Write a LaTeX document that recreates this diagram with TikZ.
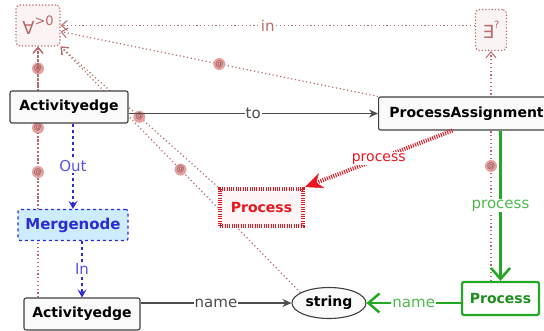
\documentclass[tikz,border=0pt]{standalone}
\usepackage{fontspec}
\setmainfont{DejaVu Sans}
\usetikzlibrary{arrows.meta, positioning, shapes.geometric, backgrounds}
\definecolor{rosy}{HTML}{B86A6A}
\definecolor{atpink}{HTML}{E5A0A0}
\definecolor{procred}{HTML}{E8161E}
\definecolor{procgreen}{HTML}{23A823}
\definecolor{mergeblue}{HTML}{2C2CD6}
\definecolor{mergefill}{HTML}{CDEDFF}

\begin{document}
\begin{tikzpicture}[x=1pt, y=-1pt,
  cls/.style={rectangle, draw=black!75, line width=1.1pt, fill=black!2, rounded corners=2pt, font=\bfseries\fontsize{14}{16}\selectfont, minimum height=32pt, inner xsep=5pt},
  quant/.style={rectangle, draw=rosy, dotted, line width=1.2pt, fill=rosy!8, rounded corners=4pt, text=rosy, font=\fontsize{18}{20}\selectfont, inner sep=0pt, minimum height=41pt},
  mergebox/.style={rectangle, draw=mergeblue, dashed, line width=1.1pt, fill=mergefill, rounded corners=2pt, text=mergeblue, font=\bfseries\fontsize{15}{17}\selectfont, minimum width=110pt, minimum height=31pt},
  delproc/.style={rectangle, draw=procred, line width=4pt, dash pattern=on 1pt off 1.3pt, fill=procred!4, text=procred, font=\bfseries\fontsize{14}{16}\selectfont, minimum width=83pt, minimum height=37pt},
  addproc/.style={rectangle, draw=procgreen, line width=2.2pt, fill=white, rounded corners=2pt, text=procgreen!85!black, font=\bfseries\fontsize{14}{16}\selectfont, minimum width=77pt, minimum height=31pt},
  attr/.style={ellipse, draw=black!75, line width=1.1pt, fill=black!2, font=\bfseries\fontsize{14}{16}\selectfont, minimum width=74pt, minimum height=31pt, inner sep=0pt},
  lbl/.style={font=\fontsize{15}{17}\selectfont, fill=white, inner sep=1pt},
  atmark/.style={circle, fill=atpink, text=rosy!70!black, font=\fontsize{8}{8}\selectfont, inner sep=0pt, minimum size=12pt},
  atlink/.style={rosy, line width=1.2pt, dash pattern=on 1.2pt off 2.6pt, -{Straight Barb[length=6pt, width=10pt, line width=1pt]}},
  reflink/.style={black!70, line width=1.4pt, -{Stealth[length=9pt, width=8pt]}},
  flowlink/.style={mergeblue, dashed, line width=1.4pt, -{Stealth[length=8pt, width=9pt, inset=3pt]}},
  dellink/.style={procred, line width=4pt, dash pattern=on 1pt off 1.3pt, -{Stealth[length=18pt, width=16pt, inset=6pt, line width=0.5pt]}},
  addlink/.style={procgreen, line width=2.5pt, -{Straight Barb[length=11pt, width=19pt]}},
]
\useasboundingbox (0,0) rectangle (544,331);

% quantifiers
\node[quant, minimum width=44pt] (Qall) at (38,25.5) {\raisebox{-3pt}{∀}\raisebox{6pt}{\fontsize{13}{13}\selectfont >0}};
\node[quant, minimum width=31pt] (Qex)  at (491,30)  {\raisebox{-2pt}{∃}\raisebox{8pt}{\fontsize{10}{10}\selectfont ?}};

% pattern nodes
\node[cls, minimum width=118pt] (AE1) at (69,107) {Activityedge};
\node[cls, anchor=west, minimum width=182pt, minimum height=33pt] (PA) at (378,113.5) {\hspace*{-6pt}ProcessAssignment};
\node[mergebox] (Merge) at (73,225) {Mergenode};
\node[delproc] (DProc) at (261.5,207.5) {Process};
\node[cls, minimum width=116pt] (AE2) at (82,314) {Activityedge};
\node[attr] (Str) at (329,303) {string};
\node[addproc, minimum height=33pt] (AProc) at (500.5,298.5) {Process};

% matching links behind the nodes
\begin{scope}[on background layer]
\draw[atlink] (Qex.west |- Qall.east) -- node[lbl, text=rosy] {in} (Qall.east);
\draw[atlink] (AE1.north -| Qall.south) -- node[atmark] {@} (Qall.south);
\draw[atlink] (Merge.north -| Qall.south) -- node[atmark] {@} (Qall.south);
\draw[atlink] (AE2.north -| Qall.south) -- node[atmark] {@} (Qall.south);
\draw[atlink] (PA.north west) -- node[atmark] {@} (Qall.-15);
\draw[atlink] (DProc.north west) -- node[atmark] {@} (Qall.south east);
\draw[atlink] (Str.160) -- node[atmark] {@} (Qall.south east);
\draw[atlink] (AProc.north -| Qex.south) -- node[atmark] {@} (Qex.south);
\end{scope}

\draw[reflink] (AE1.east |- PA.west) -- node[lbl] {to} (PA.west);
\draw[reflink] (AE2.east |- Str.west) -- node[lbl] {name} (Str.west);
\draw[flowlink] (AE1.south -| Merge.north) -- node[lbl, text=mergeblue!80] {Out} (Merge.north);
\draw[flowlink] (Merge.south -| AE2.north) -- node[lbl, text=mergeblue!80] {In} (AE2.north);
\draw[dellink] (PA.225) -- node[lbl, text=procred, font=\fontsize{14}{16}\selectfont] {process} (DProc.north east);
\draw[addlink] (PA.south -| AProc.north) -- node[lbl, text=procgreen!80] {process} (AProc.north);
\draw[addlink] (AProc.west |- Str.east) -- node[lbl, text=procgreen!80] {name} (Str.east);
\end{tikzpicture}
\end{document}
